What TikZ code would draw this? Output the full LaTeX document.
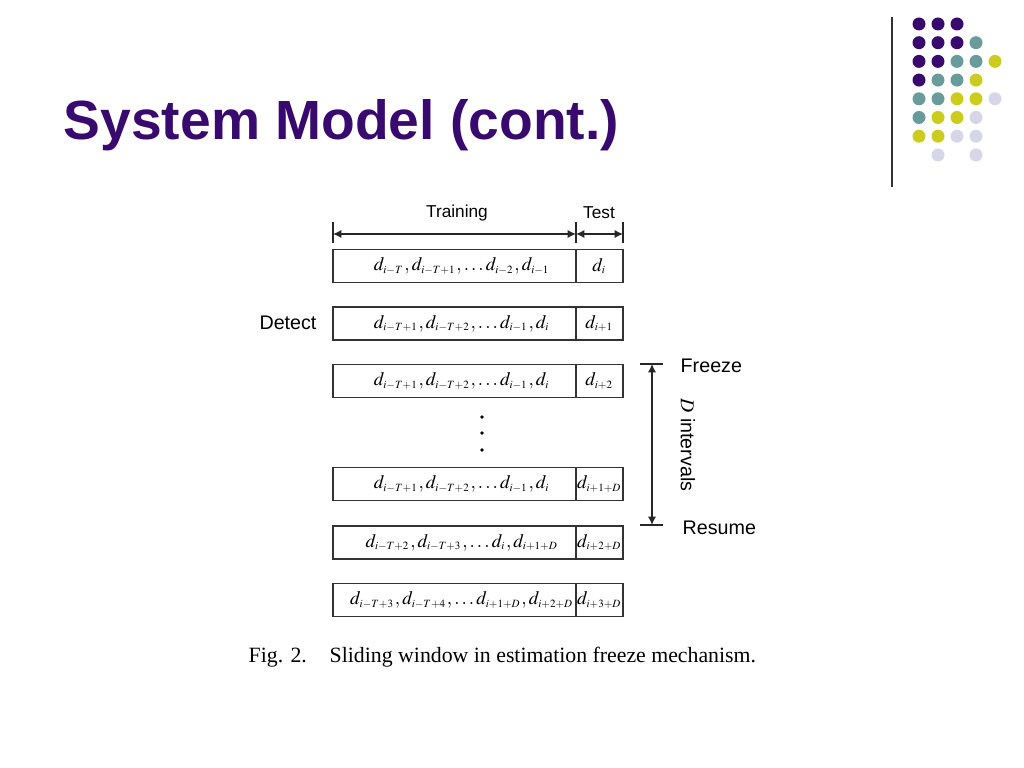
\documentclass[tikz,border=0pt]{standalone}
\usepackage{mathptmx}
\usepackage{fontspec}
\newfontfamily\sansfam{Liberation Sans}
\newfontfamily\seriffam{Liberation Serif}
\DeclareMathSizes{5.4}{5.4}{3.15}{2.6}
\usetikzlibrary{positioning,arrows.meta}
\definecolor{titlepurple}{RGB}{56,10,110}
\definecolor{dotp}{RGB}{56,10,110}
\definecolor{dott}{RGB}{106,155,155}
\definecolor{doty}{RGB}{204,204,30}
\definecolor{dotl}{RGB}{214,214,232}
\tikzset{
  winbox/.style={draw=black!80,line width=0.45pt,minimum height=0.33cm,inner sep=0pt,outer sep=0pt,font=\fontsize{5.4}{7}\selectfont},
  lbl/.style={font=\sansfam\fontsize{5.6}{7}\selectfont,inner sep=0pt},
  dimarrow/.style={draw=black!85,line width=0.45pt,{Latex[length=2.4pt,width=2.4pt]}-{Latex[length=2.4pt,width=2.4pt]}}
}
\begin{document}
\begin{tikzpicture}[x=0.01cm,y=-0.01cm]
\useasboundingbox (0,0) rectangle (1024,768);
% title and corner decoration
\node[anchor=base west,inner sep=0pt,text=titlepurple,font=\sansfam\bfseries\fontsize{15.7}{18}\selectfont] (title) at (63,140) {System Model (cont.)};
\draw[black!80,line width=0.5pt] (892,17) -- (892,187);
\foreach \row [count=\r] in {{dotp,dotp,dotp},{dotp,dotp,dotp,dott},{dotp,dotp,dott,dott,doty},{dotp,dott,dott,doty},{dott,dott,doty,doty,dotl},{dott,doty,doty,dotl},{doty,doty,dotl,dotl}}{
  \foreach \c [count=\k] in \row
    \fill[\c] ({919+19*(\k-1)},{24+18.7*(\r-1)}) circle (6.5);
}
\fill[dotl] (938,155) circle (6.5);
\fill[dotl] (976,155) circle (6.5);
% sliding windows
\foreach \y/\tr/\ts [count=\i] in {266/{$d_{i-T}, d_{i-T+1}, \ldots d_{i-2}, d_{i-1}$}/{$d_i$},
  323.5/{$d_{i-T+1}, d_{i-T+2}, \ldots d_{i-1}, d_i$}/{$d_{i+1}$},
  381/{$d_{i-T+1}, d_{i-T+2}, \ldots d_{i-1}, d_i$}/{$d_{i+2}$},
  484/{$d_{i-T+1}, d_{i-T+2}, \ldots d_{i-1}, d_i$}/{$d_{i+1+D}$},
  542.5/{$d_{i-T+2}, d_{i-T+3}, \ldots d_i, d_{i+1+D}$}/{$d_{i+2+D}$},
  600/{$d_{i-T+3}, d_{i-T+4}, \ldots d_{i+1+D}, d_{i+2+D}$}/{$d_{i+3+D}$}}{
  \node[winbox,minimum width=2.43cm,anchor=west] (tr\i) at (333,\y) {\makebox[0pt]{\hspace{0.15cm}\tr}};
  \node[winbox,minimum width=0.47cm,right=0pt of tr\i] (ts\i) {\makebox[0pt]{\ts}};
}
\foreach \y in {417,433,450}
  \fill (482,\y) circle (1.8);
% training / test span
\coordinate (trL) at (333,234);
\coordinate (trR) at (576,234);
\coordinate (tsR) at (623,234);
\foreach \p in {trL,trR,tsR}
  \draw[black!85,line width=0.45pt] ([yshift=0.12cm]\p) -- ([yshift=-0.09cm]\p);
\draw[dimarrow] (trL) -- (trR);
\draw[dimarrow] (trR) -- (tsR);
\node[lbl,font=\sansfam\fontsize{4.9}{6}\selectfont] (training) at (457,213) {Training};
\node[lbl,font=\sansfam\fontsize{4.9}{6}\selectfont] (test) at (599,213) {Test};
\node[lbl] (detect) at (288,323) {Detect};
% freeze interval
\coordinate (frz) at (652,364);
\coordinate (res) at (652,525);
\foreach \p in {frz,res}
  \draw[black!85,line width=0.45pt] ([xshift=-0.12cm]\p) -- ([xshift=0.11cm]\p);
\draw[dimarrow] (frz) -- (res);
\node[lbl,anchor=west] (freeze) at (680,366) {Freeze};
\node[lbl,anchor=west] (resume) at (682,528) {Resume};
\node[lbl,rotate=-90] (dint) at (688,445) {$D$ intervals};
% caption
\node[anchor=base west,inner sep=0pt,font=\seriffam\fontsize{6.2}{8}\selectfont] (cap) at (248,663) {Fig. 2.\hspace{1.05em}Sliding window in estimation freeze mechanism.};
\end{tikzpicture}
\end{document}
